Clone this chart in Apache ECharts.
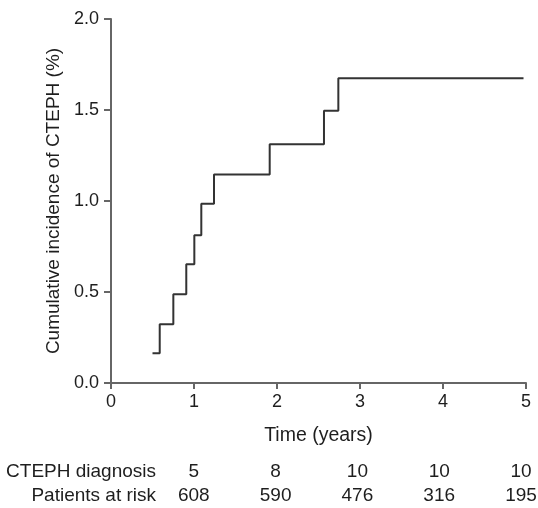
<!DOCTYPE html>
<html>
<head>
<meta charset="utf-8">
<script src="https://cdn.jsdelivr.net/npm/echarts@6/dist/echarts.min.js"></script>
<style>html,body{margin:0;padding:0;background:#fff}#c{width:538px;height:508px}</style>
</head>
<body>
<div id="c"></div>
<script>
// Kaplan-Meier style cumulative incidence (step points)
var stepTimes = [0.50, 0.587, 0.751, 0.907, 1.004, 1.088, 1.241, 1.912, 2.566, 2.739, 4.97];
var stepValues = [0.164, 0.323, 0.487, 0.652, 0.812, 0.985, 1.145, 1.312, 1.496, 1.674, 1.674];
// Risk table
var riskTimes = [1, 2, 3, 4, 5];
var rowNames = ['CTEPH diagnosis', 'Patients at risk'];
var diagnoses = [5, 8, 10, 10, 10];
var atRisk = [608, 590, 476, 316, 195];
var yTicks = ['0.0', '0.5', '1.0', '1.5', '2.0'];

var FONT = '"Liberation Sans", Arial, Helvetica, sans-serif';
var TXT = '#1e1e1e';
var AX = '#666';

var curve = stepTimes.map(function (t, i) { return [t, stepValues[i]]; });
var table = [];
riskTimes.forEach(function (t, i) {
  table.push([t, rowNames[0], diagnoses[i]]);
  table.push([t, rowNames[1], atRisk[i]]);
});

var chart = echarts.init(document.getElementById('c'), null, {renderer: 'canvas'});
chart.setOption({
  animation: false,
  backgroundColor: '#fff',
  textStyle: {fontFamily: FONT},
  grid: [
    {left: 111, right: 12, top: 19, bottom: 125, containLabel: false},
    {left: 112, right: 17, top: 460, height: 48, containLabel: false}
  ],
  xAxis: [
    {
      gridIndex: 0, type: 'value', min: 0, max: 5, interval: 1,
      name: 'Time (years)', nameLocation: 'middle', nameGap: 43,
      nameTextStyle: {fontSize: 19.5, color: TXT, fontFamily: FONT},
      axisLine: {show: true, onZero: false, lineStyle: {color: AX, width: 2}},
      axisTick: {show: true, length: 6, lineStyle: {color: AX, width: 2}},
      axisLabel: {fontSize: 18, color: TXT, margin: 10, fontFamily: FONT},
      splitLine: {show: false}
    },
    {
      gridIndex: 1, type: 'value', min: 0, max: 5, show: false
    }
  ],
  yAxis: [
    {
      gridIndex: 0, type: 'value', min: 0, max: 2, interval: 0.5,
      name: 'Cumulative incidence of CTEPH (%)', nameLocation: 'middle', nameGap: 46,
      nameTextStyle: {fontSize: 19, color: TXT, fontFamily: FONT},
      axisLine: {show: true, lineStyle: {color: AX, width: 2}},
      axisTick: {show: true, length: 7, lineStyle: {color: AX, width: 2}},
      axisLabel: {fontSize: 18, color: TXT, margin: 12, fontFamily: FONT,
        formatter: function (v) { return yTicks[Math.round(v / 0.5)]; }},
      splitLine: {show: false}
    },
    {
      gridIndex: 1, type: 'category', data: rowNames, inverse: true,
      axisLine: {show: false}, axisTick: {show: false}, splitLine: {show: false},
      axisLabel: {show: true, interval: 0, showMinLabel: true, showMaxLabel: true,
        hideOverlap: false, fontSize: 19, color: TXT, margin: -44, fontFamily: FONT}
    }
  ],
  series: [
    {
      type: 'line', xAxisIndex: 0, yAxisIndex: 0, step: 'end',
      data: curve, showSymbol: false, symbol: 'none',
      lineStyle: {color: '#333', width: 2}
    },
    {
      type: 'scatter', xAxisIndex: 1, yAxisIndex: 1,
      data: table, symbolSize: 1, itemStyle: {color: '#fff', opacity: 1},
      emphasis: {disabled: true},
      label: {show: true, position: 'inside', fontSize: 19, color: TXT, fontFamily: FONT,
        textBorderWidth: 0,
        formatter: function (p) { return String(p.value[2]); }}
    }
  ]
});
</script>
</body>
</html>
